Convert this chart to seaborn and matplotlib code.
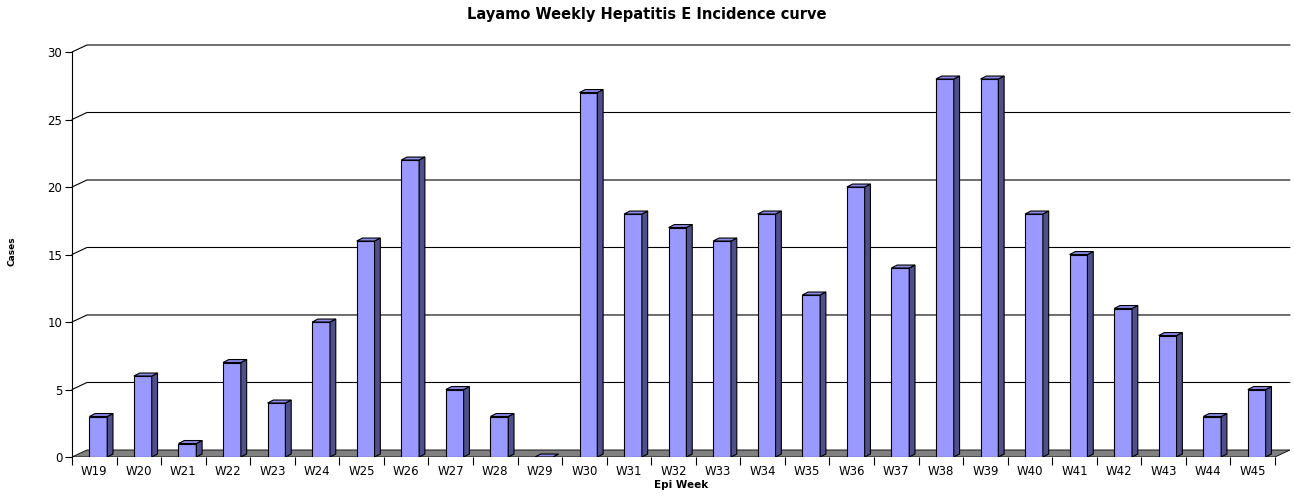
import numpy as np
import matplotlib
matplotlib.use('Agg')
import matplotlib.pyplot as plt
from matplotlib.patches import Polygon, Rectangle
import seaborn as sns

weeks = ['W19', 'W20', 'W21', 'W22', 'W23', 'W24', 'W25', 'W26', 'W27', 'W28',
         'W29', 'W30', 'W31', 'W32', 'W33', 'W34', 'W35', 'W36', 'W37', 'W38',
         'W39', 'W40', 'W41', 'W42', 'W43', 'W44', 'W45']
cases = [3, 6, 1, 7, 4, 10, 16, 22, 5, 3,
         0, 27, 18, 17, 16, 18, 12, 20, 14, 28,
         28, 18, 15, 11, 9, 3, 5]
y_ticks = [0, 5, 10, 15, 20, 25, 30]

sns.set_style("white")
plt.rcParams['font.family'] = ['DejaVu Sans']
for key in ['text.color', 'axes.labelcolor', 'xtick.color', 'ytick.color', 'axes.edgecolor']:
    plt.rcParams[key] = 'black'

fig = plt.figure(figsize=(12.94, 4.97), dpi=100)
ax = fig.add_axes([72 / 1294, 40 / 497, 1218 / 1294, 412 / 497])

# depth of the fake 3D back wall (data units)
dx, dy = 0.336, 0.52
n = len(weeks)

sns.barplot(x=weeks, y=cases, color='#9999ff', saturation=1, width=0.4,
            edgecolor='black', linewidth=0.8, ax=ax, zorder=3)

ax.set_xlim(-0.5, n - 0.5 + dx)
ax.set_ylim(0, 30 + dy)

# grey floor
floor = Polygon([(-0.5, 0), (-0.5 + dx, dy), (n - 0.5 + dx, dy), (n - 0.5, 0)],
                closed=True, facecolor='#808080', edgecolor='black', linewidth=0.6, zorder=1)
ax.add_patch(floor)

# back wall gridlines with the diagonal lead-in
for t in y_ticks[1:]:
    ax.plot([-0.5, -0.5 + dx, n - 0.5 + dx], [t, t + dy, t + dy],
            color='black', linewidth=0.8, zorder=0.5, clip_on=False)

# side and top faces for every bar
bdx, bdy = 0.13, 0.22
for p in list(ax.patches):
    if not isinstance(p, Rectangle):
        continue
    p.set_x(p.get_x() + 0.09)
    x0 = p.get_x()
    w = p.get_width()
    h = p.get_height()
    side = Polygon([(x0 + w, 0), (x0 + w + bdx, bdy), (x0 + w + bdx, h + bdy), (x0 + w, h)],
                   closed=True, facecolor='#4f4f8c', edgecolor='black', linewidth=0.8, zorder=3)
    top = Polygon([(x0, h), (x0 + bdx, h + bdy), (x0 + w + bdx, h + bdy), (x0 + w, h)],
                  closed=True, facecolor='#8a8aea', edgecolor='black', linewidth=0.8, zorder=3)
    ax.add_patch(side)
    ax.add_patch(top)

for s in ['top', 'right', 'bottom']:
    ax.spines[s].set_visible(False)
ax.spines['left'].set_bounds(0, 30)
ax.spines['left'].set_linewidth(0.8)

ax.set_yticks(y_ticks)
ax.tick_params(axis='y', direction='out', length=5, width=0.8, labelsize=8.5, pad=2, left=True)
ax.set_xticks(np.arange(n))
ax.set_xticklabels(weeks)
ax.tick_params(axis='x', which='major', length=0, labelsize=8.5, pad=6)
ax.set_xticks(np.arange(-0.5, n, 1.0), minor=True)
ax.tick_params(axis='x', which='minor', direction='out', length=6, width=0.8, bottom=True)

ax.set_xlabel('Epi Week', fontsize=7.5, fontweight='bold', labelpad=1)
ax.set_ylabel('Cases', fontsize=6.5, fontweight='bold', labelpad=22)
fig.suptitle('Layamo Weekly Hepatitis E Incidence curve', fontsize=10.5, fontweight='bold', y=0.985)

fig.savefig('out.png', dpi=100)
